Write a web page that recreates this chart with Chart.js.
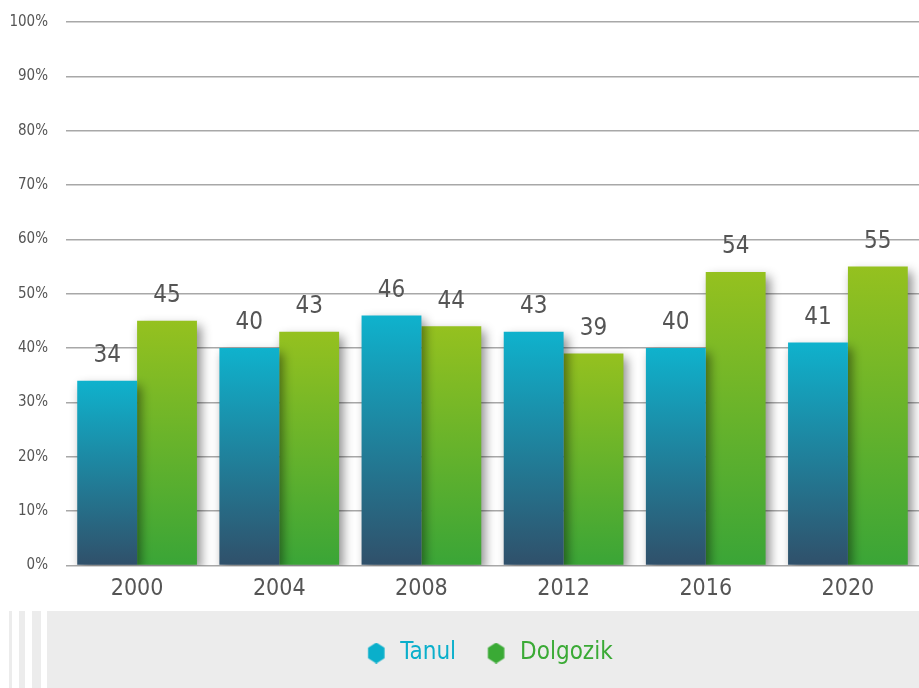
<!DOCTYPE html>
<html>
<head>
<meta charset="utf-8">
<script src="https://cdn.jsdelivr.net/npm/chart.js@4/dist/chart.umd.min.js"></script>
<style>
  html, body { margin: 0; padding: 0; background: #fff; }
  #wrap { width: 919px; height: 688px; }
</style>
</head>
<body>
<div id="wrap"><canvas id="myChart" width="919" height="688"></canvas></div>
<script>
const years = ['2000', '2004', '2008', '2012', '2016', '2020'];
const tanul = [34, 40, 46, 43, 40, 41];
const dolgozik = [45, 43, 44, 39, 54, 55];
const yTicks = [0, 10, 20, 30, 40, 50, 60, 70, 80, 90, 100];

const FONT = "'DejaVu Sans Condensed', 'Liberation Sans Narrow', sans-serif";

// hexagon icon for the legend
function hexIcon(color) {
  const c = document.createElement('canvas');
  c.width = 19; c.height = 21;
  const g = c.getContext('2d');
  g.fillStyle = color;
  g.beginPath();
  for (let i = 0; i < 6; i++) {
    const a = Math.PI / 3 * i - Math.PI / 2;
    const x = 9.5 + 9.5 * Math.cos(a), y = 10.5 + 10.5 * Math.sin(a);
    if (i === 0) g.moveTo(x, y); else g.lineTo(x, y);
  }
  g.closePath();
  g.fill();
  return c;
}

// per-bar vertical gradient
function barGradient(top, bottom) {
  return function (ctx) {
    const chart = ctx.chart;
    if (!chart.chartArea || ctx.type !== 'data') return top;
    const y = chart.scales.y;
    const y0 = y.getPixelForValue(ctx.raw);
    const y1 = y.getPixelForValue(0);
    if (!isFinite(y0) || y1 - y0 < 1) return top;
    const g = chart.ctx.createLinearGradient(0, y0, 0, y1);
    g.addColorStop(0, top);
    g.addColorStop(1, bottom);
    return g;
  };
}

const bandPlugin = {
  id: 'band',
  afterLayout(chart) {
    // centre the legend on the grey band rather than the canvas
    if (chart.legend) {
      chart.legend.left += 28;
      chart.legend.right += 28;
    }
  },
  beforeDraw(chart) {
    const c = chart.ctx;
    c.save();
    c.fillStyle = '#ececec';
    c.fillRect(47, 611, 872, 77);
    c.fillRect(9, 611, 3, 77);
    c.fillRect(19, 611, 6, 77);
    c.fillRect(32, 611, 9, 77);
    c.restore();
  }
};

const shadowPlugin = {
  id: 'shadow',
  beforeDatasetsDraw(chart) {
    const c = chart.ctx;
    c.save();
    c.shadowColor = 'rgba(0,0,0,0.45)';
    c.shadowBlur = 10;
    c.shadowOffsetX = 4;
    c.shadowOffsetY = 5;
  },
  afterDatasetsDraw(chart) {
    chart.ctx.restore();
  }
};

const labelPlugin = {
  id: 'valueLabels',
  afterDatasetsDraw(chart) {
    const c = chart.ctx;
    c.save();
    c.font = '24px ' + FONT;
    c.fillStyle = '#555';
    c.textAlign = 'center';
    c.textBaseline = 'middle';
    chart.data.datasets.forEach((ds, i) => {
      chart.getDatasetMeta(i).data.forEach((bar, j) => {
        c.fillText(ds.data[j], bar.x, bar.y - 25);
      });
    });
    c.restore();
  }
};

const config = {
  type: 'bar',
  data: {
    labels: years,
    datasets: [
      {
        label: 'Tanul',
        data: tanul,
        backgroundColor: barGradient('#0fb2cd', '#30506a'),
        legendColor: '#0aafcb'
      },
      {
        label: 'Dolgozik',
        data: dolgozik,
        backgroundColor: barGradient('#95c11f', '#3aa537'),
        legendColor: '#3aaa35'
      }
    ]
  },
  options: {
    responsive: false,
    animation: false,
    layout: { padding: { top: 22, right: -2, left: 0, bottom: 13 } },
    datasets: { bar: { barPercentage: 1, categoryPercentage: 0.842 } },
    scales: {
      x: {
        afterFit(scale) { scale.height += 8; },
        grid: { display: false },
        border: { display: false },
        ticks: { color: '#555', font: { family: FONT, size: 23 }, padding: 2 }
      },
      y: {
        min: 0,
        max: 100,
        afterFit(scale) {
          scale.width = 66;
          scale.paddingTop = 0;
          scale.paddingBottom = 0;
        },
        afterBuildTicks(scale) { scale.ticks = yTicks.map(v => ({ value: v })); },
        grid: { color: '#a8a8a8', lineWidth: 1.5, drawTicks: false },
        border: { display: false },
        ticks: {
          color: '#555',
          padding: 18,
          font: { family: FONT, size: 15 },
          callback: v => v + '%'
        }
      }
    },
    plugins: {
      tooltip: { enabled: false },
      legend: {
        position: 'bottom',
        labels: {
          usePointStyle: true,
          padding: 28,
          boxHeight: 20,
          font: { family: FONT, size: 24 },
          generateLabels(chart) {
            return chart.data.datasets.map((ds, i) => ({
              text: ds.label,
              fillStyle: ds.legendColor,
              strokeStyle: ds.legendColor,
              fontColor: ds.legendColor,
              lineWidth: 0,
              pointStyle: hexIcon(ds.legendColor),
              datasetIndex: i,
              hidden: false
            }));
          }
        }
      }
    }
  },
  plugins: [bandPlugin, shadowPlugin, labelPlugin]
};

const myChart = new Chart(document.getElementById('myChart'), config);
</script>
</body>
</html>
